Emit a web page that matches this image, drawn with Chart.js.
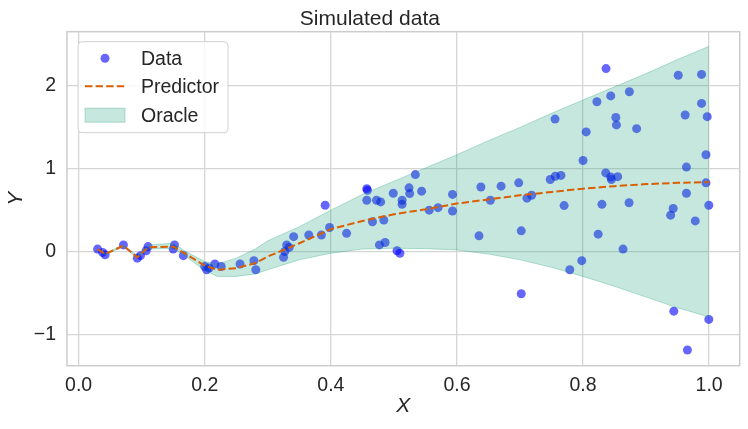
<!DOCTYPE html>
<html>
<head>
<meta charset="utf-8">
<script src="https://cdn.jsdelivr.net/npm/chart.js@4.4.0/dist/chart.umd.min.js"></script>
<style>
    html, body { margin: 0; padding: 0; background: #fff; }
    #wrap { width: 748px; height: 429px; position: relative; }
</style>
</head>
<body>
<div id="wrap"><canvas id="chart"></canvas></div>
<script>
// scatter samples
const dataX = [0.030, 0.038, 0.042, 0.071, 0.093, 0.098, 0.107, 0.110, 0.150, 0.152,
    0.166, 0.200, 0.203, 0.207, 0.216, 0.226, 0.256, 0.278, 0.281, 0.325,
    0.327, 0.330, 0.334, 0.341, 0.365, 0.385, 0.391, 0.398, 0.425, 0.457,
    0.458, 0.457, 0.466, 0.4725, 0.477, 0.479, 0.484, 0.486, 0.499, 0.505,
    0.5095, 0.513, 0.513, 0.524, 0.525, 0.534, 0.544, 0.556, 0.570, 0.593,
    0.593, 0.635, 0.638, 0.653, 0.670, 0.698, 0.702, 0.702, 0.711, 0.7185,
    0.748, 0.756, 0.7556, 0.765, 0.770, 0.779, 0.798, 0.800, 0.805, 0.822,
    0.824, 0.830, 0.8365, 0.836, 0.844, 0.844, 0.845, 0.852, 0.853, 0.855,
    0.8635, 0.873, 0.8735, 0.885, 0.939, 0.943, 0.944, 0.951, 0.962, 0.964,
    0.964, 0.9656, 0.978, 0.988, 0.988, 0.995, 0.995, 0.997, 0.9995, 0.9995];
const dataY = [0.03, -0.01, -0.04, 0.08, -0.08, -0.05, 0.01, 0.06, 0.03, 0.08,
    -0.05, -0.18, -0.22, -0.20, -0.15, -0.18, -0.15, -0.11, -0.22, -0.07,
    0.00, 0.08, 0.05, 0.18, 0.20, 0.20, 0.56, 0.29, 0.22, 0.76,
    0.74, 0.62, 0.36, 0.62, 0.08, 0.60, 0.38, 0.11, 0.705, 0.01,
    -0.02, 0.62, 0.57, 0.77, 0.70, 0.93, 0.73, 0.50, 0.53, 0.69,
    0.49, 0.19, 0.78, 0.62, 0.79, 0.83, 0.25, -0.51, 0.645, 0.68,
    0.87, 0.91, 1.60, 0.92, 0.555, -0.22, -0.11, 1.10, 1.445, 1.81,
    0.21, 0.57, 2.21, 0.95, 1.88, 0.90, 0.87, 1.62, 1.53, 0.905,
    0.03, 0.59, 1.93, 1.485, 0.44, 0.52, -0.72, 2.13, 1.65, 1.02,
    0.705, -1.19, 0.37, 2.14, 1.79, 1.17, 0.83, 1.63, 0.56, -0.82];

// curve grid shared by predictor and oracle band
const gridX = [0.03, 0.042, 0.071, 0.093, 0.11, 0.15, 0.17, 0.2, 0.22, 0.25,
    0.28, 0.3, 0.35, 0.4, 0.45, 0.5, 0.55, 0.6, 0.65, 0.7,
    0.75, 0.8, 0.85, 0.9, 0.95, 1.0];
const predictorY = [0.03, -0.03, 0.07, -0.07, 0.05, 0.06, -0.03, -0.17, -0.22, -0.2,
    -0.14, -0.06, 0.1, 0.27, 0.37, 0.45, 0.51, 0.58, 0.63, 0.68,
    0.72, 0.76, 0.79, 0.815, 0.83, 0.84];
const oracleHigh = [0.03, -0.02, 0.08, -0.05, 0.08, 0.1, 0.0, -0.12, -0.15, -0.08,
    0.03, 0.13, 0.3, 0.5, 0.69, 0.85, 1.01, 1.17, 1.34, 1.5,
    1.67, 1.83, 1.99, 2.15, 2.32, 2.48];
const oracleLow = [0.02, -0.04, 0.06, -0.08, 0.03, 0.04, -0.06, -0.23, -0.3, -0.3,
    -0.27, -0.22, -0.1, -0.02, 0.03, 0.04, 0.035, 0.02, -0.03, -0.1,
    -0.19, -0.3, -0.42, -0.55, -0.68, -0.79];

const xTicks = [0.0, 0.2, 0.4, 0.6, 0.8, 1.0];
const yTicks = [-1, 0, 1, 2];

const FONT = "'Liberation Sans', Arial, sans-serif";
const TEXT = '#262626';
const GRID = '#d5d5d5';

function pairs(xs, ys) {
    return xs.map((x, i) => ({ x: x, y: ys[i] }));
}

const framePlugin = {
    id: 'frame',
    afterDatasetsDraw(chart) {
        const a = chart.chartArea;
        const ctx = chart.ctx;
        ctx.save();
        ctx.strokeStyle = '#cccccc';
        ctx.lineWidth = 1.5;
        ctx.strokeRect(a.left, a.top, a.right - a.left, a.bottom - a.top);
        ctx.restore();
    }
};

// matplotlib-like legend box in the upper left corner
const legendPlugin = {
    id: 'boxLegend',
    afterDraw(chart) {
        const ctx = chart.ctx;
        const a = chart.chartArea;
        const ds = chart.data.datasets;
        const x0 = a.left + 11, y0 = a.top + 10, w = 150, h = 91;
        ctx.save();
        ctx.beginPath();
        ctx.roundRect(x0, y0, w, h, 4);
        ctx.fillStyle = 'rgba(255,255,255,0.8)';
        ctx.fill();
        ctx.strokeStyle = '#d0d0d0';
        ctx.lineWidth = 1;
        ctx.stroke();

        const mx = x0 + 7, mw = 40, tx = x0 + 63;
        const rows = [y0 + 16.5, y0 + 44.5, y0 + 73.5];
        ctx.font = '19.5px ' + FONT;
        ctx.fillStyle = TEXT;
        ctx.textBaseline = 'middle';

        // Data
        ctx.beginPath();
        ctx.arc(mx + mw / 2, rows[0], 4.5, 0, Math.PI * 2);
        ctx.fillStyle = ds[0].backgroundColor;
        ctx.fill();
        // Predictor
        ctx.beginPath();
        ctx.setLineDash(ds[1].borderDash);
        ctx.strokeStyle = ds[1].borderColor;
        ctx.lineWidth = ds[1].borderWidth;
        ctx.moveTo(mx, rows[1]);
        ctx.lineTo(mx + mw, rows[1]);
        ctx.stroke();
        ctx.setLineDash([]);
        // Oracle
        ctx.fillStyle = ds[2].backgroundColor;
        ctx.fillRect(mx, rows[2] - 7, mw, 14);
        ctx.strokeStyle = 'rgba(27,158,119,0.3)';
        ctx.lineWidth = 1;
        ctx.strokeRect(mx, rows[2] - 7, mw, 14);

        ctx.fillStyle = TEXT;
        ctx.fillText(ds[0].label, tx, rows[0] + 1);
        ctx.fillText(ds[1].label, tx, rows[1] + 1);
        ctx.fillText(ds[2].label, tx, rows[2] + 1);
        ctx.restore();
    }
};

new Chart(document.getElementById('chart'), {
    type: 'scatter',
    data: {
        datasets: [
            {
                label: 'Data',
                data: pairs(dataX, dataY),
                backgroundColor: 'rgba(0,0,255,0.6)',
                borderWidth: 0,
                pointRadius: 4.5,
                order: 2
            },
            {
                label: 'Predictor',
                data: pairs(gridX, predictorY),
                showLine: true,
                borderColor: '#d95f02',
                borderWidth: 2,
                borderDash: [7.4, 3.2],
                pointRadius: 0,
                fill: false,
                order: -1
            },
            {
                label: 'Oracle',
                data: pairs(gridX, oracleHigh),
                showLine: true,
                borderColor: 'rgba(27,158,119,0.3)',
                borderWidth: 1,
                backgroundColor: 'rgba(27,158,119,0.25)',
                pointRadius: 0,
                fill: '+1',
                order: 0
            },
            {
                label: 'Oracle low',
                data: pairs(gridX, oracleLow),
                showLine: true,
                borderColor: 'rgba(27,158,119,0.3)',
                borderWidth: 1,
                pointRadius: 0,
                fill: false,
                order: 0
            }
        ]
    },
    options: {
        responsive: true,
        maintainAspectRatio: false,
        animation: false,
        layout: { padding: { top: 0, right: 8.3, bottom: 6, left: 0 } },
        plugins: {
            legend: { display: false },
            tooltip: { enabled: false },
            title: {
                display: true,
                text: 'Simulated data',
                color: TEXT,
                font: { family: FONT, size: 21, weight: 'normal' },
                padding: { top: 6.5, bottom: 0 }
            }
        },
        scales: {
            x: {
                type: 'linear',
                min: -0.0185,
                max: 1.0485,
                afterBuildTicks: s => { s.ticks = xTicks.map(v => ({ value: v })); },
                afterFit: s => { s.height = 57.3; },
                ticks: {
                    color: TEXT,
                    font: { family: FONT, size: 19.5 },
                    padding: 8,
                    maxRotation: 0,
                    callback: v => v.toFixed(1)
                },
                grid: { color: GRID, lineWidth: 1.3, drawTicks: false },
                border: { display: false },
                title: {
                    display: true,
                    text: 'X',
                    color: TEXT,
                    font: { family: FONT, size: 21, style: 'italic' },
                    padding: 4
                }
            },
            y: {
                type: 'linear',
                min: -1.379,
                max: 2.656,
                afterBuildTicks: s => { s.ticks = yTicks.map(v => ({ value: v })); },
                afterFit: s => { s.width = 67; },
                ticks: {
                    color: TEXT,
                    font: { family: FONT, size: 19.5 },
                    padding: 11,
                    callback: v => v < 0 ? '\u2212' + Math.abs(v) : String(v)
                },
                grid: { color: GRID, lineWidth: 1.3, drawTicks: false },
                border: { display: false },
                title: {
                    display: true,
                    text: 'Y',
                    color: TEXT,
                    font: { family: FONT, size: 21, style: 'italic' },
                    padding: 4
                }
            }
        }
    },
    plugins: [framePlugin, legendPlugin]
});
</script>
</body>
</html>
